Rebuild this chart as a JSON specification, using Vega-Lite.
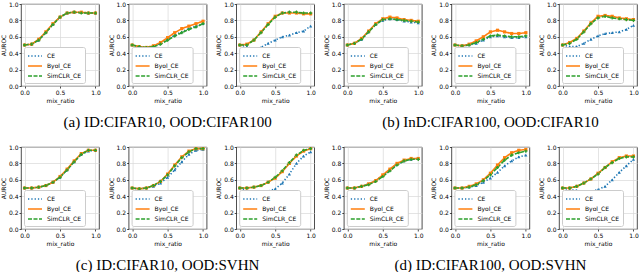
{
"$schema":"https://vega.github.io/schema/vega-lite/v6.json",
"padding":{"left":0,"top":0,"right":0,"bottom":0},
"datasets":{"d":[
{"p":1,"s":"CE","x":0,"y":0.50},{"p":1,"s":"CE","x":0.1,"y":0.51},{"p":1,"s":"CE","x":0.2,"y":0.56},{"p":1,"s":"CE","x":0.3,"y":0.65},{"p":1,"s":"CE","x":0.4,"y":0.75},{"p":1,"s":"CE","x":0.5,"y":0.84},{"p":1,"s":"CE","x":0.6,"y":0.89},{"p":1,"s":"CE","x":0.7,"y":0.90},{"p":1,"s":"CE","x":0.8,"y":0.90},{"p":1,"s":"CE","x":0.9,"y":0.89},{"p":1,"s":"CE","x":1,"y":0.89},
{"p":1,"s":"Byol_CE","x":0,"y":0.50},{"p":1,"s":"Byol_CE","x":0.1,"y":0.51},{"p":1,"s":"Byol_CE","x":0.2,"y":0.57},{"p":1,"s":"Byol_CE","x":0.3,"y":0.66},{"p":1,"s":"Byol_CE","x":0.4,"y":0.76},{"p":1,"s":"Byol_CE","x":0.5,"y":0.84},{"p":1,"s":"Byol_CE","x":0.6,"y":0.89},{"p":1,"s":"Byol_CE","x":0.7,"y":0.90},{"p":1,"s":"Byol_CE","x":0.8,"y":0.90},{"p":1,"s":"Byol_CE","x":0.9,"y":0.89},{"p":1,"s":"Byol_CE","x":1,"y":0.89},
{"p":1,"s":"SimCLR_CE","x":0,"y":0.50},{"p":1,"s":"SimCLR_CE","x":0.1,"y":0.51},{"p":1,"s":"SimCLR_CE","x":0.2,"y":0.56},{"p":1,"s":"SimCLR_CE","x":0.3,"y":0.65},{"p":1,"s":"SimCLR_CE","x":0.4,"y":0.75},{"p":1,"s":"SimCLR_CE","x":0.5,"y":0.84},{"p":1,"s":"SimCLR_CE","x":0.6,"y":0.89},{"p":1,"s":"SimCLR_CE","x":0.7,"y":0.90},{"p":1,"s":"SimCLR_CE","x":0.8,"y":0.89},{"p":1,"s":"SimCLR_CE","x":0.9,"y":0.89},{"p":1,"s":"SimCLR_CE","x":1,"y":0.89},

{"p":2,"s":"CE","x":0,"y":0.50},{"p":2,"s":"CE","x":0.1,"y":0.48},{"p":2,"s":"CE","x":0.2,"y":0.47},{"p":2,"s":"CE","x":0.3,"y":0.48},{"p":2,"s":"CE","x":0.4,"y":0.52},{"p":2,"s":"CE","x":0.5,"y":0.57},{"p":2,"s":"CE","x":0.6,"y":0.62},{"p":2,"s":"CE","x":0.7,"y":0.66},{"p":2,"s":"CE","x":0.8,"y":0.70},{"p":2,"s":"CE","x":0.9,"y":0.73},{"p":2,"s":"CE","x":1,"y":0.76},
{"p":2,"s":"Byol_CE","x":0,"y":0.50},{"p":2,"s":"Byol_CE","x":0.1,"y":0.48},{"p":2,"s":"Byol_CE","x":0.2,"y":0.47},{"p":2,"s":"Byol_CE","x":0.3,"y":0.49},{"p":2,"s":"Byol_CE","x":0.4,"y":0.53},{"p":2,"s":"Byol_CE","x":0.5,"y":0.59},{"p":2,"s":"Byol_CE","x":0.6,"y":0.65},{"p":2,"s":"Byol_CE","x":0.7,"y":0.70},{"p":2,"s":"Byol_CE","x":0.8,"y":0.73},{"p":2,"s":"Byol_CE","x":0.9,"y":0.76},{"p":2,"s":"Byol_CE","x":1,"y":0.79},
{"p":2,"s":"SimCLR_CE","x":0,"y":0.50},{"p":2,"s":"SimCLR_CE","x":0.1,"y":0.48},{"p":2,"s":"SimCLR_CE","x":0.2,"y":0.47},{"p":2,"s":"SimCLR_CE","x":0.3,"y":0.48},{"p":2,"s":"SimCLR_CE","x":0.4,"y":0.51},{"p":2,"s":"SimCLR_CE","x":0.5,"y":0.56},{"p":2,"s":"SimCLR_CE","x":0.6,"y":0.61},{"p":2,"s":"SimCLR_CE","x":0.7,"y":0.65},{"p":2,"s":"SimCLR_CE","x":0.8,"y":0.69},{"p":2,"s":"SimCLR_CE","x":0.9,"y":0.72},{"p":2,"s":"SimCLR_CE","x":1,"y":0.76},

{"p":3,"s":"CE","x":0,"y":0.50},{"p":3,"s":"CE","x":0.1,"y":0.48},{"p":3,"s":"CE","x":0.2,"y":0.45},{"p":3,"s":"CE","x":0.3,"y":0.47},{"p":3,"s":"CE","x":0.4,"y":0.52},{"p":3,"s":"CE","x":0.5,"y":0.56},{"p":3,"s":"CE","x":0.6,"y":0.60},{"p":3,"s":"CE","x":0.7,"y":0.62},{"p":3,"s":"CE","x":0.8,"y":0.65},{"p":3,"s":"CE","x":0.9,"y":0.67},{"p":3,"s":"CE","x":1,"y":0.73},
{"p":3,"s":"Byol_CE","x":0,"y":0.50},{"p":3,"s":"Byol_CE","x":0.1,"y":0.51},{"p":3,"s":"Byol_CE","x":0.2,"y":0.56},{"p":3,"s":"Byol_CE","x":0.3,"y":0.66},{"p":3,"s":"Byol_CE","x":0.4,"y":0.76},{"p":3,"s":"Byol_CE","x":0.5,"y":0.85},{"p":3,"s":"Byol_CE","x":0.6,"y":0.89},{"p":3,"s":"Byol_CE","x":0.7,"y":0.89},{"p":3,"s":"Byol_CE","x":0.8,"y":0.89},{"p":3,"s":"Byol_CE","x":0.9,"y":0.88},{"p":3,"s":"Byol_CE","x":1,"y":0.88},
{"p":3,"s":"SimCLR_CE","x":0,"y":0.50},{"p":3,"s":"SimCLR_CE","x":0.1,"y":0.50},{"p":3,"s":"SimCLR_CE","x":0.2,"y":0.56},{"p":3,"s":"SimCLR_CE","x":0.3,"y":0.65},{"p":3,"s":"SimCLR_CE","x":0.4,"y":0.75},{"p":3,"s":"SimCLR_CE","x":0.5,"y":0.84},{"p":3,"s":"SimCLR_CE","x":0.6,"y":0.89},{"p":3,"s":"SimCLR_CE","x":0.7,"y":0.90},{"p":3,"s":"SimCLR_CE","x":0.8,"y":0.90},{"p":3,"s":"SimCLR_CE","x":0.9,"y":0.89},{"p":3,"s":"SimCLR_CE","x":1,"y":0.89},

{"p":4,"s":"CE","x":0,"y":0.50},{"p":4,"s":"CE","x":0.1,"y":0.52},{"p":4,"s":"CE","x":0.2,"y":0.57},{"p":4,"s":"CE","x":0.3,"y":0.66},{"p":4,"s":"CE","x":0.4,"y":0.75},{"p":4,"s":"CE","x":0.5,"y":0.80},{"p":4,"s":"CE","x":0.6,"y":0.82},{"p":4,"s":"CE","x":0.7,"y":0.81},{"p":4,"s":"CE","x":0.8,"y":0.79},{"p":4,"s":"CE","x":0.9,"y":0.78},{"p":4,"s":"CE","x":1,"y":0.77},
{"p":4,"s":"Byol_CE","x":0,"y":0.50},{"p":4,"s":"Byol_CE","x":0.1,"y":0.52},{"p":4,"s":"Byol_CE","x":0.2,"y":0.58},{"p":4,"s":"Byol_CE","x":0.3,"y":0.67},{"p":4,"s":"Byol_CE","x":0.4,"y":0.76},{"p":4,"s":"Byol_CE","x":0.5,"y":0.82},{"p":4,"s":"Byol_CE","x":0.6,"y":0.84},{"p":4,"s":"Byol_CE","x":0.7,"y":0.83},{"p":4,"s":"Byol_CE","x":0.8,"y":0.81},{"p":4,"s":"Byol_CE","x":0.9,"y":0.80},{"p":4,"s":"Byol_CE","x":1,"y":0.79},
{"p":4,"s":"SimCLR_CE","x":0,"y":0.50},{"p":4,"s":"SimCLR_CE","x":0.1,"y":0.52},{"p":4,"s":"SimCLR_CE","x":0.2,"y":0.57},{"p":4,"s":"SimCLR_CE","x":0.3,"y":0.66},{"p":4,"s":"SimCLR_CE","x":0.4,"y":0.75},{"p":4,"s":"SimCLR_CE","x":0.5,"y":0.81},{"p":4,"s":"SimCLR_CE","x":0.6,"y":0.82},{"p":4,"s":"SimCLR_CE","x":0.7,"y":0.81},{"p":4,"s":"SimCLR_CE","x":0.8,"y":0.80},{"p":4,"s":"SimCLR_CE","x":0.9,"y":0.79},{"p":4,"s":"SimCLR_CE","x":1,"y":0.78},

{"p":5,"s":"CE","x":0,"y":0.50},{"p":5,"s":"CE","x":0.1,"y":0.49},{"p":5,"s":"CE","x":0.2,"y":0.50},{"p":5,"s":"CE","x":0.3,"y":0.52},{"p":5,"s":"CE","x":0.4,"y":0.56},{"p":5,"s":"CE","x":0.5,"y":0.60},{"p":5,"s":"CE","x":0.6,"y":0.61},{"p":5,"s":"CE","x":0.7,"y":0.60},{"p":5,"s":"CE","x":0.8,"y":0.59},{"p":5,"s":"CE","x":0.9,"y":0.59},{"p":5,"s":"CE","x":1,"y":0.60},
{"p":5,"s":"Byol_CE","x":0,"y":0.50},{"p":5,"s":"Byol_CE","x":0.1,"y":0.49},{"p":5,"s":"Byol_CE","x":0.2,"y":0.51},{"p":5,"s":"Byol_CE","x":0.3,"y":0.55},{"p":5,"s":"Byol_CE","x":0.4,"y":0.60},{"p":5,"s":"Byol_CE","x":0.5,"y":0.66},{"p":5,"s":"Byol_CE","x":0.6,"y":0.68},{"p":5,"s":"Byol_CE","x":0.7,"y":0.66},{"p":5,"s":"Byol_CE","x":0.8,"y":0.64},{"p":5,"s":"Byol_CE","x":0.9,"y":0.64},{"p":5,"s":"Byol_CE","x":1,"y":0.65},
{"p":5,"s":"SimCLR_CE","x":0,"y":0.50},{"p":5,"s":"SimCLR_CE","x":0.1,"y":0.49},{"p":5,"s":"SimCLR_CE","x":0.2,"y":0.50},{"p":5,"s":"SimCLR_CE","x":0.3,"y":0.53},{"p":5,"s":"SimCLR_CE","x":0.4,"y":0.57},{"p":5,"s":"SimCLR_CE","x":0.5,"y":0.61},{"p":5,"s":"SimCLR_CE","x":0.6,"y":0.62},{"p":5,"s":"SimCLR_CE","x":0.7,"y":0.61},{"p":5,"s":"SimCLR_CE","x":0.8,"y":0.60},{"p":5,"s":"SimCLR_CE","x":0.9,"y":0.60},{"p":5,"s":"SimCLR_CE","x":1,"y":0.61},

{"p":6,"s":"CE","x":0,"y":0.50},{"p":6,"s":"CE","x":0.1,"y":0.48},{"p":6,"s":"CE","x":0.2,"y":0.48},{"p":6,"s":"CE","x":0.3,"y":0.52},{"p":6,"s":"CE","x":0.4,"y":0.57},{"p":6,"s":"CE","x":0.5,"y":0.61},{"p":6,"s":"CE","x":0.6,"y":0.64},{"p":6,"s":"CE","x":0.7,"y":0.65},{"p":6,"s":"CE","x":0.8,"y":0.66},{"p":6,"s":"CE","x":0.9,"y":0.69},{"p":6,"s":"CE","x":1,"y":0.74},
{"p":6,"s":"Byol_CE","x":0,"y":0.50},{"p":6,"s":"Byol_CE","x":0.1,"y":0.53},{"p":6,"s":"Byol_CE","x":0.2,"y":0.58},{"p":6,"s":"Byol_CE","x":0.3,"y":0.67},{"p":6,"s":"Byol_CE","x":0.4,"y":0.77},{"p":6,"s":"Byol_CE","x":0.5,"y":0.85},{"p":6,"s":"Byol_CE","x":0.6,"y":0.86},{"p":6,"s":"Byol_CE","x":0.7,"y":0.85},{"p":6,"s":"Byol_CE","x":0.8,"y":0.83},{"p":6,"s":"Byol_CE","x":0.9,"y":0.82},{"p":6,"s":"Byol_CE","x":1,"y":0.81},
{"p":6,"s":"SimCLR_CE","x":0,"y":0.50},{"p":6,"s":"SimCLR_CE","x":0.1,"y":0.52},{"p":6,"s":"SimCLR_CE","x":0.2,"y":0.57},{"p":6,"s":"SimCLR_CE","x":0.3,"y":0.66},{"p":6,"s":"SimCLR_CE","x":0.4,"y":0.76},{"p":6,"s":"SimCLR_CE","x":0.5,"y":0.83},{"p":6,"s":"SimCLR_CE","x":0.6,"y":0.85},{"p":6,"s":"SimCLR_CE","x":0.7,"y":0.83},{"p":6,"s":"SimCLR_CE","x":0.8,"y":0.82},{"p":6,"s":"SimCLR_CE","x":0.9,"y":0.81},{"p":6,"s":"SimCLR_CE","x":1,"y":0.80},

{"p":7,"s":"CE","x":0,"y":0.50},{"p":7,"s":"CE","x":0.1,"y":0.50},{"p":7,"s":"CE","x":0.2,"y":0.51},{"p":7,"s":"CE","x":0.3,"y":0.53},{"p":7,"s":"CE","x":0.4,"y":0.57},{"p":7,"s":"CE","x":0.5,"y":0.63},{"p":7,"s":"CE","x":0.6,"y":0.72},{"p":7,"s":"CE","x":0.7,"y":0.82},{"p":7,"s":"CE","x":0.8,"y":0.91},{"p":7,"s":"CE","x":0.9,"y":0.95},{"p":7,"s":"CE","x":1,"y":0.96},
{"p":7,"s":"Byol_CE","x":0,"y":0.50},{"p":7,"s":"Byol_CE","x":0.1,"y":0.50},{"p":7,"s":"Byol_CE","x":0.2,"y":0.51},{"p":7,"s":"Byol_CE","x":0.3,"y":0.53},{"p":7,"s":"Byol_CE","x":0.4,"y":0.57},{"p":7,"s":"Byol_CE","x":0.5,"y":0.64},{"p":7,"s":"Byol_CE","x":0.6,"y":0.73},{"p":7,"s":"Byol_CE","x":0.7,"y":0.83},{"p":7,"s":"Byol_CE","x":0.8,"y":0.92},{"p":7,"s":"Byol_CE","x":0.9,"y":0.96},{"p":7,"s":"Byol_CE","x":1,"y":0.96},
{"p":7,"s":"SimCLR_CE","x":0,"y":0.50},{"p":7,"s":"SimCLR_CE","x":0.1,"y":0.50},{"p":7,"s":"SimCLR_CE","x":0.2,"y":0.51},{"p":7,"s":"SimCLR_CE","x":0.3,"y":0.53},{"p":7,"s":"SimCLR_CE","x":0.4,"y":0.57},{"p":7,"s":"SimCLR_CE","x":0.5,"y":0.63},{"p":7,"s":"SimCLR_CE","x":0.6,"y":0.72},{"p":7,"s":"SimCLR_CE","x":0.7,"y":0.82},{"p":7,"s":"SimCLR_CE","x":0.8,"y":0.91},{"p":7,"s":"SimCLR_CE","x":0.9,"y":0.96},{"p":7,"s":"SimCLR_CE","x":1,"y":0.96},

{"p":8,"s":"CE","x":0,"y":0.50},{"p":8,"s":"CE","x":0.1,"y":0.49},{"p":8,"s":"CE","x":0.2,"y":0.50},{"p":8,"s":"CE","x":0.3,"y":0.52},{"p":8,"s":"CE","x":0.4,"y":0.56},{"p":8,"s":"CE","x":0.5,"y":0.63},{"p":8,"s":"CE","x":0.6,"y":0.72},{"p":8,"s":"CE","x":0.7,"y":0.82},{"p":8,"s":"CE","x":0.8,"y":0.91},{"p":8,"s":"CE","x":0.9,"y":0.96},{"p":8,"s":"CE","x":1,"y":0.97},
{"p":8,"s":"Byol_CE","x":0,"y":0.50},{"p":8,"s":"Byol_CE","x":0.1,"y":0.49},{"p":8,"s":"Byol_CE","x":0.2,"y":0.50},{"p":8,"s":"Byol_CE","x":0.3,"y":0.53},{"p":8,"s":"Byol_CE","x":0.4,"y":0.58},{"p":8,"s":"Byol_CE","x":0.5,"y":0.67},{"p":8,"s":"Byol_CE","x":0.6,"y":0.78},{"p":8,"s":"Byol_CE","x":0.7,"y":0.88},{"p":8,"s":"Byol_CE","x":0.8,"y":0.95},{"p":8,"s":"Byol_CE","x":0.9,"y":0.98},{"p":8,"s":"Byol_CE","x":1,"y":0.98},
{"p":8,"s":"SimCLR_CE","x":0,"y":0.50},{"p":8,"s":"SimCLR_CE","x":0.1,"y":0.49},{"p":8,"s":"SimCLR_CE","x":0.2,"y":0.50},{"p":8,"s":"SimCLR_CE","x":0.3,"y":0.53},{"p":8,"s":"SimCLR_CE","x":0.4,"y":0.58},{"p":8,"s":"SimCLR_CE","x":0.5,"y":0.66},{"p":8,"s":"SimCLR_CE","x":0.6,"y":0.77},{"p":8,"s":"SimCLR_CE","x":0.7,"y":0.87},{"p":8,"s":"SimCLR_CE","x":0.8,"y":0.94},{"p":8,"s":"SimCLR_CE","x":0.9,"y":0.98},{"p":8,"s":"SimCLR_CE","x":1,"y":0.98},

{"p":9,"s":"CE","x":0,"y":0.50},{"p":9,"s":"CE","x":0.1,"y":0.47},{"p":9,"s":"CE","x":0.2,"y":0.45},{"p":9,"s":"CE","x":0.3,"y":0.45},{"p":9,"s":"CE","x":0.4,"y":0.46},{"p":9,"s":"CE","x":0.5,"y":0.49},{"p":9,"s":"CE","x":0.6,"y":0.56},{"p":9,"s":"CE","x":0.7,"y":0.67},{"p":9,"s":"CE","x":0.8,"y":0.80},{"p":9,"s":"CE","x":0.9,"y":0.89},{"p":9,"s":"CE","x":1,"y":0.94},
{"p":9,"s":"Byol_CE","x":0,"y":0.50},{"p":9,"s":"Byol_CE","x":0.1,"y":0.50},{"p":9,"s":"Byol_CE","x":0.2,"y":0.51},{"p":9,"s":"Byol_CE","x":0.3,"y":0.53},{"p":9,"s":"Byol_CE","x":0.4,"y":0.57},{"p":9,"s":"Byol_CE","x":0.5,"y":0.62},{"p":9,"s":"Byol_CE","x":0.6,"y":0.70},{"p":9,"s":"Byol_CE","x":0.7,"y":0.80},{"p":9,"s":"Byol_CE","x":0.8,"y":0.89},{"p":9,"s":"Byol_CE","x":0.9,"y":0.95},{"p":9,"s":"Byol_CE","x":1,"y":0.98},
{"p":9,"s":"SimCLR_CE","x":0,"y":0.50},{"p":9,"s":"SimCLR_CE","x":0.1,"y":0.50},{"p":9,"s":"SimCLR_CE","x":0.2,"y":0.51},{"p":9,"s":"SimCLR_CE","x":0.3,"y":0.53},{"p":9,"s":"SimCLR_CE","x":0.4,"y":0.57},{"p":9,"s":"SimCLR_CE","x":0.5,"y":0.63},{"p":9,"s":"SimCLR_CE","x":0.6,"y":0.71},{"p":9,"s":"SimCLR_CE","x":0.7,"y":0.81},{"p":9,"s":"SimCLR_CE","x":0.8,"y":0.90},{"p":9,"s":"SimCLR_CE","x":0.9,"y":0.96},{"p":9,"s":"SimCLR_CE","x":1,"y":0.98},

{"p":10,"s":"CE","x":0,"y":0.50},{"p":10,"s":"CE","x":0.1,"y":0.50},{"p":10,"s":"CE","x":0.2,"y":0.52},{"p":10,"s":"CE","x":0.3,"y":0.55},{"p":10,"s":"CE","x":0.4,"y":0.59},{"p":10,"s":"CE","x":0.5,"y":0.65},{"p":10,"s":"CE","x":0.6,"y":0.72},{"p":10,"s":"CE","x":0.7,"y":0.79},{"p":10,"s":"CE","x":0.8,"y":0.83},{"p":10,"s":"CE","x":0.9,"y":0.85},{"p":10,"s":"CE","x":1,"y":0.86},
{"p":10,"s":"Byol_CE","x":0,"y":0.50},{"p":10,"s":"Byol_CE","x":0.1,"y":0.50},{"p":10,"s":"Byol_CE","x":0.2,"y":0.52},{"p":10,"s":"Byol_CE","x":0.3,"y":0.55},{"p":10,"s":"Byol_CE","x":0.4,"y":0.59},{"p":10,"s":"Byol_CE","x":0.5,"y":0.66},{"p":10,"s":"Byol_CE","x":0.6,"y":0.73},{"p":10,"s":"Byol_CE","x":0.7,"y":0.80},{"p":10,"s":"Byol_CE","x":0.8,"y":0.84},{"p":10,"s":"Byol_CE","x":0.9,"y":0.86},{"p":10,"s":"Byol_CE","x":1,"y":0.86},
{"p":10,"s":"SimCLR_CE","x":0,"y":0.50},{"p":10,"s":"SimCLR_CE","x":0.1,"y":0.50},{"p":10,"s":"SimCLR_CE","x":0.2,"y":0.52},{"p":10,"s":"SimCLR_CE","x":0.3,"y":0.54},{"p":10,"s":"SimCLR_CE","x":0.4,"y":0.58},{"p":10,"s":"SimCLR_CE","x":0.5,"y":0.64},{"p":10,"s":"SimCLR_CE","x":0.6,"y":0.71},{"p":10,"s":"SimCLR_CE","x":0.7,"y":0.78},{"p":10,"s":"SimCLR_CE","x":0.8,"y":0.83},{"p":10,"s":"SimCLR_CE","x":0.9,"y":0.85},{"p":10,"s":"SimCLR_CE","x":1,"y":0.85},

{"p":11,"s":"CE","x":0,"y":0.50},{"p":11,"s":"CE","x":0.1,"y":0.50},{"p":11,"s":"CE","x":0.2,"y":0.51},{"p":11,"s":"CE","x":0.3,"y":0.53},{"p":11,"s":"CE","x":0.4,"y":0.57},{"p":11,"s":"CE","x":0.5,"y":0.62},{"p":11,"s":"CE","x":0.6,"y":0.69},{"p":11,"s":"CE","x":0.7,"y":0.77},{"p":11,"s":"CE","x":0.8,"y":0.83},{"p":11,"s":"CE","x":0.9,"y":0.88},{"p":11,"s":"CE","x":1,"y":0.90},
{"p":11,"s":"Byol_CE","x":0,"y":0.50},{"p":11,"s":"Byol_CE","x":0.1,"y":0.50},{"p":11,"s":"Byol_CE","x":0.2,"y":0.52},{"p":11,"s":"Byol_CE","x":0.3,"y":0.55},{"p":11,"s":"Byol_CE","x":0.4,"y":0.60},{"p":11,"s":"Byol_CE","x":0.5,"y":0.68},{"p":11,"s":"Byol_CE","x":0.6,"y":0.78},{"p":11,"s":"Byol_CE","x":0.7,"y":0.87},{"p":11,"s":"Byol_CE","x":0.8,"y":0.93},{"p":11,"s":"Byol_CE","x":0.9,"y":0.96},{"p":11,"s":"Byol_CE","x":1,"y":0.97},
{"p":11,"s":"SimCLR_CE","x":0,"y":0.50},{"p":11,"s":"SimCLR_CE","x":0.1,"y":0.50},{"p":11,"s":"SimCLR_CE","x":0.2,"y":0.51},{"p":11,"s":"SimCLR_CE","x":0.3,"y":0.54},{"p":11,"s":"SimCLR_CE","x":0.4,"y":0.59},{"p":11,"s":"SimCLR_CE","x":0.5,"y":0.66},{"p":11,"s":"SimCLR_CE","x":0.6,"y":0.75},{"p":11,"s":"SimCLR_CE","x":0.7,"y":0.84},{"p":11,"s":"SimCLR_CE","x":0.8,"y":0.90},{"p":11,"s":"SimCLR_CE","x":0.9,"y":0.93},{"p":11,"s":"SimCLR_CE","x":1,"y":0.95},

{"p":12,"s":"CE","x":0,"y":0.50},{"p":12,"s":"CE","x":0.1,"y":0.48},{"p":12,"s":"CE","x":0.2,"y":0.47},{"p":12,"s":"CE","x":0.3,"y":0.46},{"p":12,"s":"CE","x":0.4,"y":0.46},{"p":12,"s":"CE","x":0.5,"y":0.48},{"p":12,"s":"CE","x":0.6,"y":0.52},{"p":12,"s":"CE","x":0.7,"y":0.60},{"p":12,"s":"CE","x":0.8,"y":0.69},{"p":12,"s":"CE","x":0.9,"y":0.77},{"p":12,"s":"CE","x":1,"y":0.85},
{"p":12,"s":"Byol_CE","x":0,"y":0.50},{"p":12,"s":"Byol_CE","x":0.1,"y":0.50},{"p":12,"s":"Byol_CE","x":0.2,"y":0.52},{"p":12,"s":"Byol_CE","x":0.3,"y":0.56},{"p":12,"s":"Byol_CE","x":0.4,"y":0.61},{"p":12,"s":"Byol_CE","x":0.5,"y":0.68},{"p":12,"s":"Byol_CE","x":0.6,"y":0.75},{"p":12,"s":"Byol_CE","x":0.7,"y":0.82},{"p":12,"s":"Byol_CE","x":0.8,"y":0.87},{"p":12,"s":"Byol_CE","x":0.9,"y":0.89},{"p":12,"s":"Byol_CE","x":1,"y":0.89},
{"p":12,"s":"SimCLR_CE","x":0,"y":0.50},{"p":12,"s":"SimCLR_CE","x":0.1,"y":0.50},{"p":12,"s":"SimCLR_CE","x":0.2,"y":0.52},{"p":12,"s":"SimCLR_CE","x":0.3,"y":0.56},{"p":12,"s":"SimCLR_CE","x":0.4,"y":0.61},{"p":12,"s":"SimCLR_CE","x":0.5,"y":0.67},{"p":12,"s":"SimCLR_CE","x":0.6,"y":0.75},{"p":12,"s":"SimCLR_CE","x":0.7,"y":0.81},{"p":12,"s":"SimCLR_CE","x":0.8,"y":0.86},{"p":12,"s":"SimCLR_CE","x":0.9,"y":0.88},{"p":12,"s":"SimCLR_CE","x":1,"y":0.88}
]},
"data":{"name":"d"},
"columns":6,
"spacing":{"row":61,"column":29.6},
"bounds":"flush",
"resolve":{"legend":{"color":"independent","strokeDash":"independent"}},
"concat":[
{"width":78,"height":82,"transform":[{"filter":"datum.p==1"}],"encoding":{"x":{"field":"x","type":"quantitative","scale":{"domain":[-0.05,1.05],"nice":false},"axis":{"values":[0,0.5,1],"format":".1f"},"title":"mix_ratio"},"y":{"field":"y","type":"quantitative","scale":{"domain":[0,1],"nice":false},"axis":{"values":[0,0.2,0.4,0.6,0.8,1],"format":".1f"},"title":"AUROC"},"color":{"field":"s","type":"nominal","scale":{"domain":["CE","Byol_CE","SimCLR_CE"],"range":["#1f77b4","#ff7f0e","#2ca02c"]},"title":null}},"layer":[{"mark":"line","encoding":{"strokeDash":{"field":"s","type":"nominal","scale":{"domain":["CE","Byol_CE","SimCLR_CE"],"range":[[1.3,2],[1,0],[4,1.5]]},"title":null}}},{"mark":"point","encoding":{"shape":{"field":"s","type":"nominal","scale":{"domain":["CE","Byol_CE","SimCLR_CE"],"range":["triangle-up","square","cross"]},"legend":null}}}]},
{"width":78,"height":82,"title":"(a) ID:CIFAR10, OOD:CIFAR100","transform":[{"filter":"datum.p==2"}],"encoding":{"x":{"field":"x","type":"quantitative","scale":{"domain":[-0.05,1.05],"nice":false},"axis":{"values":[0,0.5,1],"format":".1f"},"title":"mix_ratio"},"y":{"field":"y","type":"quantitative","scale":{"domain":[0,1],"nice":false},"axis":{"values":[0,0.2,0.4,0.6,0.8,1],"format":".1f"},"title":"AUROC"},"color":{"field":"s","type":"nominal","scale":{"domain":["CE","Byol_CE","SimCLR_CE"],"range":["#1f77b4","#ff7f0e","#2ca02c"]},"title":null}},"layer":[{"mark":"line","encoding":{"strokeDash":{"field":"s","type":"nominal","scale":{"domain":["CE","Byol_CE","SimCLR_CE"],"range":[[1.3,2],[1,0],[4,1.5]]},"title":null}}},{"mark":"point","encoding":{"shape":{"field":"s","type":"nominal","scale":{"domain":["CE","Byol_CE","SimCLR_CE"],"range":["triangle-up","square","cross"]},"legend":null}}}]},
{"width":78,"height":82,"transform":[{"filter":"datum.p==3"}],"encoding":{"x":{"field":"x","type":"quantitative","scale":{"domain":[-0.05,1.05],"nice":false},"axis":{"values":[0,0.5,1],"format":".1f"},"title":"mix_ratio"},"y":{"field":"y","type":"quantitative","scale":{"domain":[0,1],"nice":false},"axis":{"values":[0,0.2,0.4,0.6,0.8,1],"format":".1f"},"title":"AUROC"},"color":{"field":"s","type":"nominal","scale":{"domain":["CE","Byol_CE","SimCLR_CE"],"range":["#1f77b4","#ff7f0e","#2ca02c"]},"title":null}},"layer":[{"mark":"line","encoding":{"strokeDash":{"field":"s","type":"nominal","scale":{"domain":["CE","Byol_CE","SimCLR_CE"],"range":[[1.3,2],[1,0],[4,1.5]]},"title":null}}},{"mark":"point","encoding":{"shape":{"field":"s","type":"nominal","scale":{"domain":["CE","Byol_CE","SimCLR_CE"],"range":["triangle-up","square","cross"]},"legend":null}}}]},
{"width":78,"height":82,"transform":[{"filter":"datum.p==4"}],"encoding":{"x":{"field":"x","type":"quantitative","scale":{"domain":[-0.05,1.05],"nice":false},"axis":{"values":[0,0.5,1],"format":".1f"},"title":"mix_ratio"},"y":{"field":"y","type":"quantitative","scale":{"domain":[0,1],"nice":false},"axis":{"values":[0,0.2,0.4,0.6,0.8,1],"format":".1f"},"title":"AUROC"},"color":{"field":"s","type":"nominal","scale":{"domain":["CE","Byol_CE","SimCLR_CE"],"range":["#1f77b4","#ff7f0e","#2ca02c"]},"title":null}},"layer":[{"mark":"line","encoding":{"strokeDash":{"field":"s","type":"nominal","scale":{"domain":["CE","Byol_CE","SimCLR_CE"],"range":[[1.3,2],[1,0],[4,1.5]]},"title":null}}},{"mark":"point","encoding":{"shape":{"field":"s","type":"nominal","scale":{"domain":["CE","Byol_CE","SimCLR_CE"],"range":["triangle-up","square","cross"]},"legend":null}}}]},
{"width":78,"height":82,"title":"(b) InD:CIFAR100, OOD:CIFAR10","transform":[{"filter":"datum.p==5"}],"encoding":{"x":{"field":"x","type":"quantitative","scale":{"domain":[-0.05,1.05],"nice":false},"axis":{"values":[0,0.5,1],"format":".1f"},"title":"mix_ratio"},"y":{"field":"y","type":"quantitative","scale":{"domain":[0,1],"nice":false},"axis":{"values":[0,0.2,0.4,0.6,0.8,1],"format":".1f"},"title":"AUROC"},"color":{"field":"s","type":"nominal","scale":{"domain":["CE","Byol_CE","SimCLR_CE"],"range":["#1f77b4","#ff7f0e","#2ca02c"]},"title":null}},"layer":[{"mark":"line","encoding":{"strokeDash":{"field":"s","type":"nominal","scale":{"domain":["CE","Byol_CE","SimCLR_CE"],"range":[[1.3,2],[1,0],[4,1.5]]},"title":null}}},{"mark":"point","encoding":{"shape":{"field":"s","type":"nominal","scale":{"domain":["CE","Byol_CE","SimCLR_CE"],"range":["triangle-up","square","cross"]},"legend":null}}}]},
{"width":78,"height":82,"transform":[{"filter":"datum.p==6"}],"encoding":{"x":{"field":"x","type":"quantitative","scale":{"domain":[-0.05,1.05],"nice":false},"axis":{"values":[0,0.5,1],"format":".1f"},"title":"mix_ratio"},"y":{"field":"y","type":"quantitative","scale":{"domain":[0,1],"nice":false},"axis":{"values":[0,0.2,0.4,0.6,0.8,1],"format":".1f"},"title":"AUROC"},"color":{"field":"s","type":"nominal","scale":{"domain":["CE","Byol_CE","SimCLR_CE"],"range":["#1f77b4","#ff7f0e","#2ca02c"]},"title":null}},"layer":[{"mark":"line","encoding":{"strokeDash":{"field":"s","type":"nominal","scale":{"domain":["CE","Byol_CE","SimCLR_CE"],"range":[[1.3,2],[1,0],[4,1.5]]},"title":null}}},{"mark":"point","encoding":{"shape":{"field":"s","type":"nominal","scale":{"domain":["CE","Byol_CE","SimCLR_CE"],"range":["triangle-up","square","cross"]},"legend":null}}}]},
{"width":78,"height":82,"transform":[{"filter":"datum.p==7"}],"encoding":{"x":{"field":"x","type":"quantitative","scale":{"domain":[-0.05,1.05],"nice":false},"axis":{"values":[0,0.5,1],"format":".1f"},"title":"mix_ratio"},"y":{"field":"y","type":"quantitative","scale":{"domain":[0,1],"nice":false},"axis":{"values":[0,0.2,0.4,0.6,0.8,1],"format":".1f"},"title":"AUROC"},"color":{"field":"s","type":"nominal","scale":{"domain":["CE","Byol_CE","SimCLR_CE"],"range":["#1f77b4","#ff7f0e","#2ca02c"]},"title":null}},"layer":[{"mark":"line","encoding":{"strokeDash":{"field":"s","type":"nominal","scale":{"domain":["CE","Byol_CE","SimCLR_CE"],"range":[[1.3,2],[1,0],[4,1.5]]},"title":null}}},{"mark":"point","encoding":{"shape":{"field":"s","type":"nominal","scale":{"domain":["CE","Byol_CE","SimCLR_CE"],"range":["triangle-up","square","cross"]},"legend":null}}}]},
{"width":78,"height":82,"title":"(c) ID:CIFAR10, OOD:SVHN","transform":[{"filter":"datum.p==8"}],"encoding":{"x":{"field":"x","type":"quantitative","scale":{"domain":[-0.05,1.05],"nice":false},"axis":{"values":[0,0.5,1],"format":".1f"},"title":"mix_ratio"},"y":{"field":"y","type":"quantitative","scale":{"domain":[0,1],"nice":false},"axis":{"values":[0,0.2,0.4,0.6,0.8,1],"format":".1f"},"title":"AUROC"},"color":{"field":"s","type":"nominal","scale":{"domain":["CE","Byol_CE","SimCLR_CE"],"range":["#1f77b4","#ff7f0e","#2ca02c"]},"title":null}},"layer":[{"mark":"line","encoding":{"strokeDash":{"field":"s","type":"nominal","scale":{"domain":["CE","Byol_CE","SimCLR_CE"],"range":[[1.3,2],[1,0],[4,1.5]]},"title":null}}},{"mark":"point","encoding":{"shape":{"field":"s","type":"nominal","scale":{"domain":["CE","Byol_CE","SimCLR_CE"],"range":["triangle-up","square","cross"]},"legend":null}}}]},
{"width":78,"height":82,"transform":[{"filter":"datum.p==9"}],"encoding":{"x":{"field":"x","type":"quantitative","scale":{"domain":[-0.05,1.05],"nice":false},"axis":{"values":[0,0.5,1],"format":".1f"},"title":"mix_ratio"},"y":{"field":"y","type":"quantitative","scale":{"domain":[0,1],"nice":false},"axis":{"values":[0,0.2,0.4,0.6,0.8,1],"format":".1f"},"title":"AUROC"},"color":{"field":"s","type":"nominal","scale":{"domain":["CE","Byol_CE","SimCLR_CE"],"range":["#1f77b4","#ff7f0e","#2ca02c"]},"title":null}},"layer":[{"mark":"line","encoding":{"strokeDash":{"field":"s","type":"nominal","scale":{"domain":["CE","Byol_CE","SimCLR_CE"],"range":[[1.3,2],[1,0],[4,1.5]]},"title":null}}},{"mark":"point","encoding":{"shape":{"field":"s","type":"nominal","scale":{"domain":["CE","Byol_CE","SimCLR_CE"],"range":["triangle-up","square","cross"]},"legend":null}}}]},
{"width":78,"height":82,"transform":[{"filter":"datum.p==10"}],"encoding":{"x":{"field":"x","type":"quantitative","scale":{"domain":[-0.05,1.05],"nice":false},"axis":{"values":[0,0.5,1],"format":".1f"},"title":"mix_ratio"},"y":{"field":"y","type":"quantitative","scale":{"domain":[0,1],"nice":false},"axis":{"values":[0,0.2,0.4,0.6,0.8,1],"format":".1f"},"title":"AUROC"},"color":{"field":"s","type":"nominal","scale":{"domain":["CE","Byol_CE","SimCLR_CE"],"range":["#1f77b4","#ff7f0e","#2ca02c"]},"title":null}},"layer":[{"mark":"line","encoding":{"strokeDash":{"field":"s","type":"nominal","scale":{"domain":["CE","Byol_CE","SimCLR_CE"],"range":[[1.3,2],[1,0],[4,1.5]]},"title":null}}},{"mark":"point","encoding":{"shape":{"field":"s","type":"nominal","scale":{"domain":["CE","Byol_CE","SimCLR_CE"],"range":["triangle-up","square","cross"]},"legend":null}}}]},
{"width":78,"height":82,"title":"(d) ID:CIFAR100, OOD:SVHN","transform":[{"filter":"datum.p==11"}],"encoding":{"x":{"field":"x","type":"quantitative","scale":{"domain":[-0.05,1.05],"nice":false},"axis":{"values":[0,0.5,1],"format":".1f"},"title":"mix_ratio"},"y":{"field":"y","type":"quantitative","scale":{"domain":[0,1],"nice":false},"axis":{"values":[0,0.2,0.4,0.6,0.8,1],"format":".1f"},"title":"AUROC"},"color":{"field":"s","type":"nominal","scale":{"domain":["CE","Byol_CE","SimCLR_CE"],"range":["#1f77b4","#ff7f0e","#2ca02c"]},"title":null}},"layer":[{"mark":"line","encoding":{"strokeDash":{"field":"s","type":"nominal","scale":{"domain":["CE","Byol_CE","SimCLR_CE"],"range":[[1.3,2],[1,0],[4,1.5]]},"title":null}}},{"mark":"point","encoding":{"shape":{"field":"s","type":"nominal","scale":{"domain":["CE","Byol_CE","SimCLR_CE"],"range":["triangle-up","square","cross"]},"legend":null}}}]},
{"width":78,"height":82,"transform":[{"filter":"datum.p==12"}],"encoding":{"x":{"field":"x","type":"quantitative","scale":{"domain":[-0.05,1.05],"nice":false},"axis":{"values":[0,0.5,1],"format":".1f"},"title":"mix_ratio"},"y":{"field":"y","type":"quantitative","scale":{"domain":[0,1],"nice":false},"axis":{"values":[0,0.2,0.4,0.6,0.8,1],"format":".1f"},"title":"AUROC"},"color":{"field":"s","type":"nominal","scale":{"domain":["CE","Byol_CE","SimCLR_CE"],"range":["#1f77b4","#ff7f0e","#2ca02c"]},"title":null}},"layer":[{"mark":"line","encoding":{"strokeDash":{"field":"s","type":"nominal","scale":{"domain":["CE","Byol_CE","SimCLR_CE"],"range":[[1.3,2],[1,0],[4,1.5]]},"title":null}}},{"mark":"point","encoding":{"shape":{"field":"s","type":"nominal","scale":{"domain":["CE","Byol_CE","SimCLR_CE"],"range":["triangle-up","square","cross"]},"legend":null}}}]}
],
"config":{
"font":"DejaVu Sans",
"background":"white",
"view":{"stroke":"#222222","strokeWidth":0.8},
"line":{"strokeWidth":1.6},
"point":{"filled":true,"size":10,"opacity":1},
"axis":{"labelFont":"DejaVu Sans","titleFont":"DejaVu Sans","labelFontSize":6,"titleFontSize":6,"titleFontWeight":"normal","labelColor":"#000000","titleColor":"#000000","tickColor":"#000000","tickSize":2,"tickWidth":0.7,"domain":false,"gridColor":"#d8d8d8","gridWidth":0.7,"labelPadding":1,"titlePadding":2,"labelFlush":false,"labelOverlap":false,"labelBound":false},
"legend":{"orient":"bottom-left","offset":3,"padding":3,"fillColor":"white","strokeColor":"#cccccc","cornerRadius":2,"labelFont":"DejaVu Sans","labelFontSize":6,"labelColor":"#000000","symbolType":"M-1,0H1.8","symbolSize":100,"symbolStrokeWidth":1.6,"rowPadding":0,"labelOffset":8,"labelLimit":100},
"title":{"font":"Liberation Serif","fontSize":15,"fontWeight":"normal","color":"#000000","orient":"bottom","frame":"group","anchor":"middle","offset":12}
}
}
